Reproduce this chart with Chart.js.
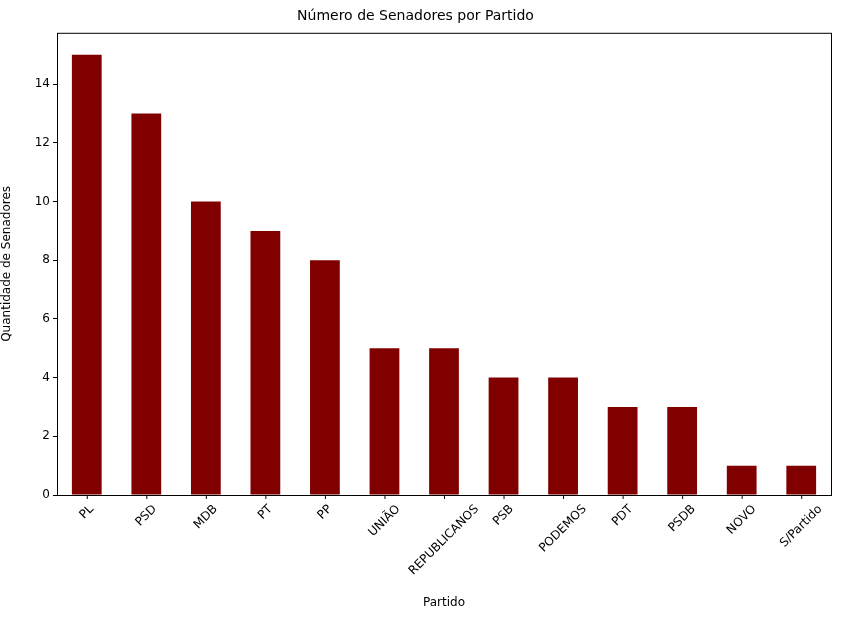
<!DOCTYPE html>
<html><head><meta charset="utf-8">
<script src="https://cdn.jsdelivr.net/npm/chart.js@4/dist/chart.umd.min.js"></script>
<style>html,body{margin:0;padding:0;background:#fff}#w{width:841px;height:620px}</style>
</head><body><div id="w"><canvas id="c"></canvas></div>
<script>
const categories = ["PL","PSD","MDB","PT","PP","UNIÃO","REPUBLICANOS","PSB","PODEMOS","PDT","PSDB","NOVO","S/Partido"];
const senadores = [15,13,10,9,8,5,5,4,4,3,3,1,1];
const yTicks = [0,2,4,6,8,10,12,14];
const FONT = "'DejaVu Sans', sans-serif";

const frame = {
  id:'frame',
  afterDraw(chart){
    const {ctx, chartArea:a, scales:{x}} = chart;
    ctx.save();
    ctx.strokeStyle='#000'; ctx.lineWidth=1;
    ctx.strokeRect(a.left+0.5,a.top+0.5,a.right-a.left,a.bottom-a.top);
    ctx.font = "12px "+FONT; ctx.fillStyle='#000';
    ctx.textAlign='center'; ctx.textBaseline='middle';
    const c = Math.SQRT1_2, h=12;
    categories.forEach((lab,i)=>{
      const px = x.getPixelForValue(i);
      const w = ctx.measureText(lab).width;
      const cy = a.bottom + 8 + (w*c + h*c)/2;
      ctx.save(); ctx.translate(px,cy); ctx.rotate(-Math.PI/4);
      ctx.fillText(lab,0,0); ctx.restore();
      ctx.beginPath(); ctx.moveTo(px+0.5,a.bottom); ctx.lineTo(px+0.5,a.bottom+4); ctx.stroke();
    });
    ctx.restore();
  }
};

new Chart(document.getElementById('c'),{
  type:'bar',
  data:{labels:categories,datasets:[{data:senadores,backgroundColor:'#800000',barPercentage:0.5,categoryPercentage:1}]},
  options:{
    responsive:true,maintainAspectRatio:false,animation:false,
    layout:{padding:{left:0,right:10,top:0,bottom:0}},
    plugins:{
      legend:{display:false},tooltip:{enabled:false},
      title:{display:true,text:'Número de Senadores por Partido',color:'#000',font:{family:FONT,size:14,weight:'normal'},padding:{top:8,bottom:8}}
    },
    scales:{
      x:{
        grid:{display:false},border:{display:false},
        ticks:{display:false},
        title:{display:true,text:'Partido',color:'#000',font:{family:FONT,size:12},padding:{top:0,bottom:10}},
        afterFit(s){s.height=125;}
      },
      y:{
        min:0,max:15.75,
        afterBuildTicks(s){s.ticks=yTicks.map(v=>({value:v}));},
        grid:{drawOnChartArea:false,tickLength:4,color:'#000'},border:{display:false},
        ticks:{color:'#000',font:{family:FONT,size:12},padding:3},
        title:{display:true,text:'Quantidade de Senadores',color:'#000',font:{family:FONT,size:12},padding:{top:0,bottom:4}},
        afterFit(s){s.width=57;}
      }
    }
  },
  plugins:[frame]
});
</script></body></html>
